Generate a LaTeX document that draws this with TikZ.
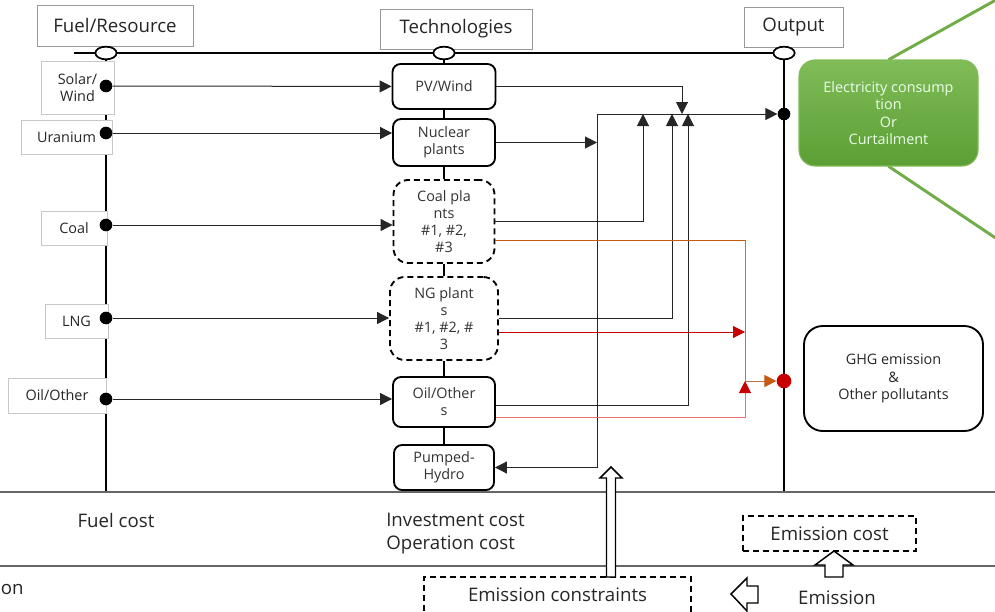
\documentclass[tikz,border=0pt]{standalone}
\usepackage{fontspec}
\setmainfont{Open Sans}
\usetikzlibrary{arrows.meta,shapes.geometric,calc}
\definecolor{grn}{RGB}{112,173,71}
\definecolor{grnT}{RGB}{128,188,88}
\definecolor{grnB}{RGB}{92,158,52}
\definecolor{orng}{RGB}{197,90,17}
\definecolor{orngA}{RGB}{185,115,70}
\definecolor{pinkl}{RGB}{195,105,105}
\definecolor{lred}{RGB}{228,112,112}
\definecolor{dred}{RGB}{200,0,0}
\begin{document}
\begin{tikzpicture}[x=0.75pt,y=-0.75pt,
 sz/.style 2 args={minimum width=#1*0.75pt,minimum height=#2*0.75pt},
 hdr/.style={draw=black!40,fill=white,inner sep=0pt,text=black!85,font=\fontsize{14}{16}\selectfont},
 lbl/.style={draw=black!22,fill=white,inner sep=0pt,align=center,text=black!85,font=\fontsize{10.8}{12.75}\selectfont},
 tech/.style={draw,line width=1.4pt,rounded corners=6pt,fill=white,inner sep=0pt,align=center,text=black!80,font=\fontsize{10.8}{12.75}\selectfont},
 techd/.style={tech,rounded corners=11pt,dash pattern=on 4.5pt off 3pt},
 fdot/.style={circle,fill=black,inner sep=0pt,minimum size=9.5pt},
 oval/.style={ellipse,draw,line width=1.3pt,fill=white,inner sep=0pt,minimum width=16pt,minimum height=9.5pt},
 conn/.style={line width=0.75pt,draw=black!85},
 tip/.style={-{Triangle[length=9pt,width=9pt]}},
 main/.style={line width=1.6pt},
 sepline/.style={line width=1.3pt,draw=black!60},
 greenl/.style={line width=2.2pt,draw=grn},
 dbox/.style={draw,fill=white,line width=1.1pt,dash pattern=on 4.5pt off 3pt,inner sep=0pt,text=black!85,font=\fontsize{14}{16}\selectfont},
 btxt/.style={text=black!85,font=\fontsize{14}{17.3}\selectfont,inner sep=0pt},
 hollow/.style={draw,line width=1.1pt,fill=white}
]
\useasboundingbox (0,0) rectangle (995,611);
\clip (0,0) rectangle (995,611);
% axis coordinates
\coordinate (tl) at (74,53);
\coordinate (tr) at (784,53);
\coordinate (lb) at (106,492);
\coordinate (rb) at (784,492);
\coordinate (s1l) at (0,492); \coordinate (s1r) at (995,492);
\coordinate (s2l) at (0,566); \coordinate (s2r) at (995,566);
\coordinate (lt) at (106,53);
% axes
\draw[main] (tl) -- (tr);
\draw[main] (lt) -- (lb);
\draw[main] (tr) -- (rb);
\draw[sepline] (s1l) -- (s1r);
\draw[sepline] (s2l) -- (s2r);

% output boxes
\coordinate (g1) at (1012,-9);
\coordinate (g2) at (1012,249);
\node[sz={179}{106},inner sep=0pt] (elecpos) at (888.5,113) {};
\draw[greenl] (elecpos.north) -- (g1);
\draw[greenl] (elecpos.south) -- (g2);
\node[sz={179}{106},rounded corners=12pt,top color=grnT,bottom color=grnB,draw=grnT,line width=0.8pt,inner sep=0pt,align=center,text=white!92!green,font=\fontsize{10.8}{12.9}\selectfont] (elec) at (888.5,113) {Electricity consump\\tion\\Or\\Curtailment};
\node[sz={179}{105},draw,line width=1.4pt,rounded corners=14pt,inner sep=0pt,align=center,text=black!85,font=\fontsize{10.8}{13.1}\selectfont] (ghg) at (893.5,378.5) {GHG emission\\\&\\Other pollutants};

% headers
\node[hdr,sz={156}{41}] (fuelhdr) at (115,25.5) {Fuel/Resource};
\node[hdr,sz={152}{40}] (techhdr) at (456,29) {Technologies};
\node[hdr,sz={99}{40}] (outhdr) at (793.5,27) {Output};
\node[oval] (e1) at (106,53) {};
\node[oval] (e2) at (444,53) {};
\node[oval] (e3) at (784,53) {};

% fuel labels
\node[lbl,sz={73}{53}] (lsolar) at (77.5,87.5) {Solar/\\Wind};
\node[lbl,sz={91}{34}] (luran) at (66.5,137) {Uranium};
\node[lbl,sz={66}{34}] (lcoal) at (74,228) {Coal};
\node[lbl,sz={63}{34}] (llng) at (76.5,321) {LNG};
\node[lbl,sz={98}{35}] (loil) at (57,395.5) {Oil/Other};
\node[fdot] (d1) at (106,86) {};
\node[fdot] (d2) at (106,133) {};
\node[fdot] (d3) at (106,225) {};
\node[fdot] (d4) at (106,318) {};
\node[fdot] (d5) at (106,399) {};

% technologies
\node[tech,sz={103}{45}] (pv) at (444,86.5) {PV/Wind};
\node[tech,sz={102}{47}] (nuc) at (444,142.5) {Nuclear\\plants};
\node[techd,sz={101}{83}] (coal) at (444,221.5) {Coal pla\\nts\\\#1, \#2,\\\#3};
\node[techd,sz={108}{83}] (ng) at (444,318.5) {NG plant\\s\\\#1, \#2, \#\\3};
\node[tech,sz={102}{50}] (oil) at (444,402) {Oil/Other\\s};
\node[tech,sz={100}{45}] (ph) at (444,467.5) {Pumped-\\Hydro};
\draw[main] (e2) -- (pv);
\draw[main] (pv) -- (nuc);
\draw[main] (nuc) -- (coal);
\draw[main] (coal) -- (ng);
\draw[main] (ng) -- (oil);
\draw[main] (oil) -- (ph);

% fuel to technology
\draw[conn,tip] (d1) -- (pv);
\draw[conn,tip] (d2) -- (d2 -| nuc.west);
\draw[conn,tip] (d3) -- (d3 -| coal.west);
\draw[conn,tip] (d4) -- (d4 -| ng.west);
\draw[conn,tip] (d5) -- (d5 -| oil.west);

% output dots
\node[fdot,minimum size=9.5pt] (od1) at (784,114) {};
\node[circle,fill=dred,inner sep=0pt,minimum size=11pt] (rdot) at (784,381) {};

% electricity bus
\coordinate (busL) at (597,114);
\coordinate (busC) at (643,114);
\coordinate (busN) at (672,114);
\coordinate (busPV) at (682,114);
\coordinate (busO) at (688,114);
\draw[conn,tip] (busL) -- (od1);
\draw[conn,tip] (busL) |- (ph.east);
\draw[conn,tip] (nuc.east) -- (nuc.east -| busL);
\draw[conn,tip] (pv.east) -| (busPV);
\draw[conn,tip] (coal.east) -| (busC);
\draw[conn,tip] (ng.east) -| (busN);
\coordinate (oilB) at ($(oil.east)+(0,3)$);
\draw[conn,tip] (oilB) -| (busO);

% emission paths
\coordinate (coalE) at ($(coal.east)+(0,18.5)$);
\coordinate (cturn) at (745,240);
\coordinate (jn) at (745,381);
\coordinate (ngE) at ($(ng.east)+(0,13.5)$);
\coordinate (ngT) at (745,332);
\coordinate (oilE) at ($(oil.east)+(0,15)$);
\coordinate (oturn) at (745,417);
\draw[line width=0.75pt,draw=orng] (coalE) -- (cturn);
\draw[line width=0.75pt,draw=pinkl] (cturn) -- (jn);
\draw[line width=0.75pt,draw=dred,-{Triangle[length=9pt,width=9pt]}] (ngE) -- (ngT);
\draw[line width=0.75pt,draw=lred,-{Triangle[length=9pt,width=9pt,color=dred]}] (oilE) -- (oturn) -- (jn);
\draw[line width=0.75pt,draw=orngA,-{Triangle[length=9pt,width=9pt,color=orng]}] (jn) -- (rdot);

% bottom rows
\node[btxt] (fuelcost) at (116,520) {Fuel cost};
\node[btxt,anchor=west,align=left] (invcost) at (386,533.5) {Investment cost\\Operation cost};
\node[dbox,sz={173}{35}] (emcost) at (829.5,533.5) {Emission cost};
\node[dbox,sz={267}{38}] (emcons) at (557.5,596) {};
\node[btxt] (emconstxt) at (557.5,595) {Emission constraints};
\node[btxt] (emis) at (837,598) {Emission};
\node[btxt,anchor=west] (cuton) at (0.5,589) {on};

% hollow arrows
\draw[hollow] (611,467) -- (622,478) -- (615.5,478) -- (615.5,577) -- (606.5,577) -- (606.5,478) -- (600,478) -- cycle;
\draw[hollow] (834,551) -- (853,565) -- (843,565) -- (843,577) -- (825,577) -- (825,565) -- (815,565) -- cycle;
\draw[hollow] (731,594) -- (747,578) -- (747,586) -- (758,586) -- (758,603) -- (747,603) -- (747,611) -- cycle;
\end{tikzpicture}
\end{document}
